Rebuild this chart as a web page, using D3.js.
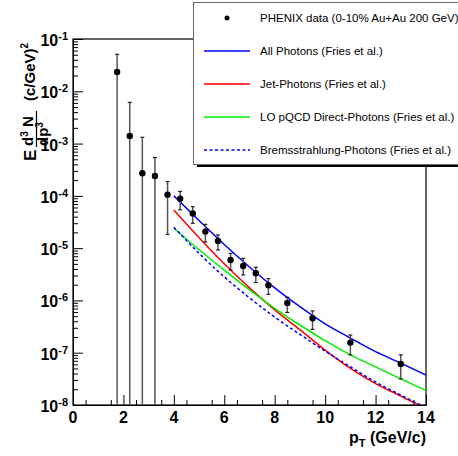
<!DOCTYPE html>
<html>
<head>
<meta charset="utf-8">
<script src="https://cdn.jsdelivr.net/npm/d3@7"></script>
<style>
body { margin: 0; background: #fff; }
svg { font-family: "Liberation Sans", Arial, sans-serif; }
.axis path, .axis line { stroke: #000; }
</style>
</head>
<body>
<script>
// PHENIX data points (pT, yield, upper and lower error end)
var dataPt   = [1.75, 2.25, 2.75, 3.25, 3.75, 4.25, 4.75, 5.25, 5.75, 6.25, 6.75, 7.25, 7.75, 8.5, 9.5, 11.0, 13.0];
var dataY    = [2.34e-2, 1.40e-3, 2.70e-4, 2.40e-4, 1.05e-4, 8.8e-5, 4.6e-5, 2.07e-5, 1.37e-5, 5.94e-6, 4.56e-6, 3.3e-6, 1.95e-6, 8.9e-7, 4.55e-7, 1.56e-7, 6.1e-8];
var dataHi   = [5.1e-2, 6.15e-3, 1.32e-3, 5.4e-4, 1.87e-4, 1.22e-4, 6.2e-5, 2.86e-5, 1.79e-5, 7.96e-6, 6.4e-6, 4.3e-6, 2.61e-6, 1.15e-6, 6.3e-7, 2.18e-7, 9.1e-8];
var dataLo   = [0, 0, 0, 0, 1.84e-5, 5.4e-5, 2.99e-5, 1.31e-5, 9.2e-6, 3.82e-6, 3.07e-6, 2.19e-6, 1.31e-6, 5.9e-7, 2.8e-7, 9.1e-8, 3.15e-8];

// Fries et al. curves, log10 of yield read at pT = 4..14
var curvePt  = [4, 5, 6, 7, 8, 9, 10, 11, 12, 13, 14];
var allLog   = [-4.00, -4.47, -4.93, -5.36, -5.76, -6.12, -6.45, -6.72, -6.98, -7.20, -7.43];
var jetLog   = [-4.27, -4.80, -5.30, -5.76, -6.18, -6.56, -6.95, -7.30, -7.59, -7.83, -8.07];
var lopqLog  = [-4.62, -5.03, -5.42, -5.80, -6.15, -6.47, -6.77, -7.04, -7.27, -7.50, -7.72];
var bremLog  = [-4.60, -5.10, -5.55, -5.95, -6.32, -6.65, -6.97, -7.27, -7.56, -7.81, -8.05];

var xTicks = [0, 2, 4, 6, 8, 10, 12, 14];
var yExp   = [-8, -7, -6, -5, -4, -3, -2, -1];

var legendLabels = [
  "PHENIX data (0-10% Au+Au 200 GeV)",
  "All Photons (Fries et al.)",
  "Jet-Photons (Fries et al.)",
  "LO pQCD Direct-Photons (Fries et al.)",
  "Bremsstrahlung-Photons (Fries et al.)"
];

var W = 458, H = 456;
var frame = {left: 73, right: 426, top: 39, bottom: 405};

var x = d3.scaleLinear().domain([0, 14]).range([frame.left, frame.right]);
var y = d3.scaleLog().domain([1e-8, 1e-1]).range([frame.bottom, frame.top]);

var svg = d3.select("body").append("svg")
    .attr("width", W)
    .attr("height", H);

svg.append("defs").append("clipPath").attr("id", "plotclip")
  .append("rect")
    .attr("x", frame.left).attr("y", frame.top)
    .attr("width", frame.right - frame.left).attr("height", frame.bottom - frame.top);

// minor / major ticks
var minorY = [];
yExp.slice(0, -1).forEach(function(e) {
  for (var k = 2; k <= 9; k++) minorY.push(k * Math.pow(10, e));
});
var minorX = d3.range(0.5, 14, 1);

svg.append("g").attr("class", "axis")
    .attr("transform", "translate(" + frame.left + ",0)")
    .call(d3.axisLeft(y).tickValues(minorY).tickSize(-5).tickFormat("").tickSizeOuter(0));
svg.append("g").attr("class", "axis")
    .attr("transform", "translate(" + frame.left + ",0)")
    .call(d3.axisLeft(y).tickValues(yExp.map(function(e) { return Math.pow(10, e); }))
          .tickSize(-10).tickFormat("").tickSizeOuter(0));
svg.append("g").attr("class", "axis")
    .attr("transform", "translate(0," + frame.bottom + ")")
    .call(d3.axisBottom(x).tickValues(minorX).tickSize(-5).tickFormat("").tickSizeOuter(0));
svg.append("g").attr("class", "axis")
    .attr("transform", "translate(0," + frame.bottom + ")")
    .call(d3.axisBottom(x).tickValues(xTicks).tickSize(-10).tickFormat("").tickSizeOuter(0));

// frame
svg.append("rect")
    .attr("x", frame.left).attr("y", frame.top)
    .attr("width", frame.right - frame.left).attr("height", frame.bottom - frame.top)
    .attr("fill", "none").attr("stroke", "#000").attr("stroke-width", 1.2);

// y tick labels
yExp.forEach(function(e) {
  var t = svg.append("text")
      .attr("x", 68).attr("y", y(Math.pow(10, e)) + 7)
      .attr("text-anchor", "end")
      .style("font-weight", "bold").style("font-size", "16px");
  t.append("tspan").text("10");
  t.append("tspan").attr("dy", -6).style("font-size", "11px").text(String(e));
});

// x tick labels
svg.selectAll(".xlab").data(xTicks).enter().append("text")
    .attr("class", "xlab")
    .attr("x", function(d) { return x(d); })
    .attr("y", 423)
    .attr("text-anchor", "middle")
    .style("font-weight", "bold").style("font-size", "16px")
    .text(function(d) { return d; });

// x title
var xt = svg.append("text")
    .attr("x", frame.right).attr("y", 443)
    .attr("text-anchor", "end")
    .style("font-weight", "bold").style("font-size", "16px");
xt.append("tspan").text("p");
xt.append("tspan").attr("dy", 4).style("font-size", "11px").text("T");
xt.append("tspan").attr("dy", -4).text(" (GeV/c)");

// y title (rotated fraction)
var yt = svg.append("g")
    .attr("transform", "translate(36,161) rotate(-90)")
    .style("font-weight", "bold");
yt.append("text").attr("x", 0).attr("y", 0).style("font-size", "17px").text("E");
var num = yt.append("text").attr("x", 15).attr("y", -3).style("font-size", "15px");
num.append("tspan").text("d");
num.append("tspan").attr("dy", -5).style("font-size", "10px").text("3");
num.append("tspan").attr("dy", 5).text(" N");
yt.append("line")
    .attr("x1", 14).attr("x2", 50).attr("y1", 0.5).attr("y2", 0.5)
    .attr("stroke", "#000").attr("stroke-width", 1.2);
var den = yt.append("text").attr("x", 15).attr("y", 12).style("font-size", "15px");
den.append("tspan").text("dp");
den.append("tspan").attr("dy", -5).style("font-size", "10px").text("3");
var unit = yt.append("text").attr("x", 60).attr("y", -1).style("font-size", "15px");
unit.append("tspan").text("(c/GeV)");
unit.append("tspan").attr("dy", -7).style("font-size", "10px").text("2");

// curves
var plot = svg.append("g").attr("clip-path", "url(#plotclip)");
var line = d3.line()
    .x(function(d) { return x(d[0]); })
    .y(function(d) { return y(Math.pow(10, d[1])); })
    .curve(d3.curveMonotoneX);

var curves = [
  { vals: allLog,  color: "#0000ff", dash: null },
  { vals: jetLog,  color: "#ff0000", dash: null },
  { vals: lopqLog, color: "#00ee00", dash: null },
  { vals: bremLog, color: "#0000ff", dash: "3,2.5" }
];
curves.forEach(function(c) {
  plot.append("path")
      .attr("d", line(curvePt.map(function(p, i) { return [p, c.vals[i]]; })))
      .attr("fill", "none")
      .attr("stroke", c.color)
      .attr("stroke-width", 1.5)
      .attr("stroke-dasharray", c.dash);
});

// data error bars and markers
var pts = dataPt.map(function(p, i) {
  return { p: p, v: dataY[i], hi: dataHi[i], lo: dataLo[i] };
});
var yPix = function(v) { return v > 1e-8 ? y(v) : frame.bottom; };
var eb = plot.selectAll(".eb").data(pts).enter().append("g").attr("class", "eb");
eb.append("line")
    .attr("x1", function(d) { return x(d.p); })
    .attr("x2", function(d) { return x(d.p); })
    .attr("y1", function(d) { return yPix(d.hi); })
    .attr("y2", function(d) { return yPix(d.lo); })
    .attr("stroke", "#555").attr("stroke-width", 1.5);
eb.append("line")
    .attr("x1", function(d) { return x(d.p) - 2; })
    .attr("x2", function(d) { return x(d.p) + 2; })
    .attr("y1", function(d) { return yPix(d.hi); })
    .attr("y2", function(d) { return yPix(d.hi); })
    .attr("stroke", "#000").attr("stroke-width", 1);
eb.filter(function(d) { return d.lo > 0; }).append("line")
    .attr("x1", function(d) { return x(d.p) - 2; })
    .attr("x2", function(d) { return x(d.p) + 2; })
    .attr("y1", function(d) { return yPix(d.lo); })
    .attr("y2", function(d) { return yPix(d.lo); })
    .attr("stroke", "#000").attr("stroke-width", 1);
plot.selectAll(".pt").data(pts).enter().append("circle")
    .attr("class", "pt")
    .attr("cx", function(d) { return x(d.p); })
    .attr("cy", function(d) { return y(d.v); })
    .attr("r", 3.2)
    .attr("fill", "#000");

// legend
var lg = svg.append("g");
lg.append("rect")
    .attr("x", 197).attr("y", 6).attr("width", 300).attr("height", 161)
    .attr("fill", "#000");
lg.append("rect")
    .attr("x", 193.5).attr("y", 2.5).attr("width", 300).attr("height", 162)
    .attr("fill", "#fff").attr("stroke", "#666").attr("stroke-width", 1);

var rowY = [18, 51, 84, 117, 150];
legendLabels.forEach(function(s, i) {
  lg.append("text")
      .attr("x", 260).attr("y", rowY[i] + 4)
      .style("font-size", "11.5px")
      .text(s);
  if (i === 0) {
    lg.append("circle").attr("cx", 227).attr("cy", rowY[i]).attr("r", 2.5).attr("fill", "#000");
  } else {
    var c = curves[i - 1];
    lg.append("line")
        .attr("x1", 204).attr("x2", 250)
        .attr("y1", rowY[i]).attr("y2", rowY[i])
        .attr("stroke", c.color).attr("stroke-width", 1.5)
        .attr("stroke-dasharray", c.dash);
  }
});
</script>
</body>
</html>
